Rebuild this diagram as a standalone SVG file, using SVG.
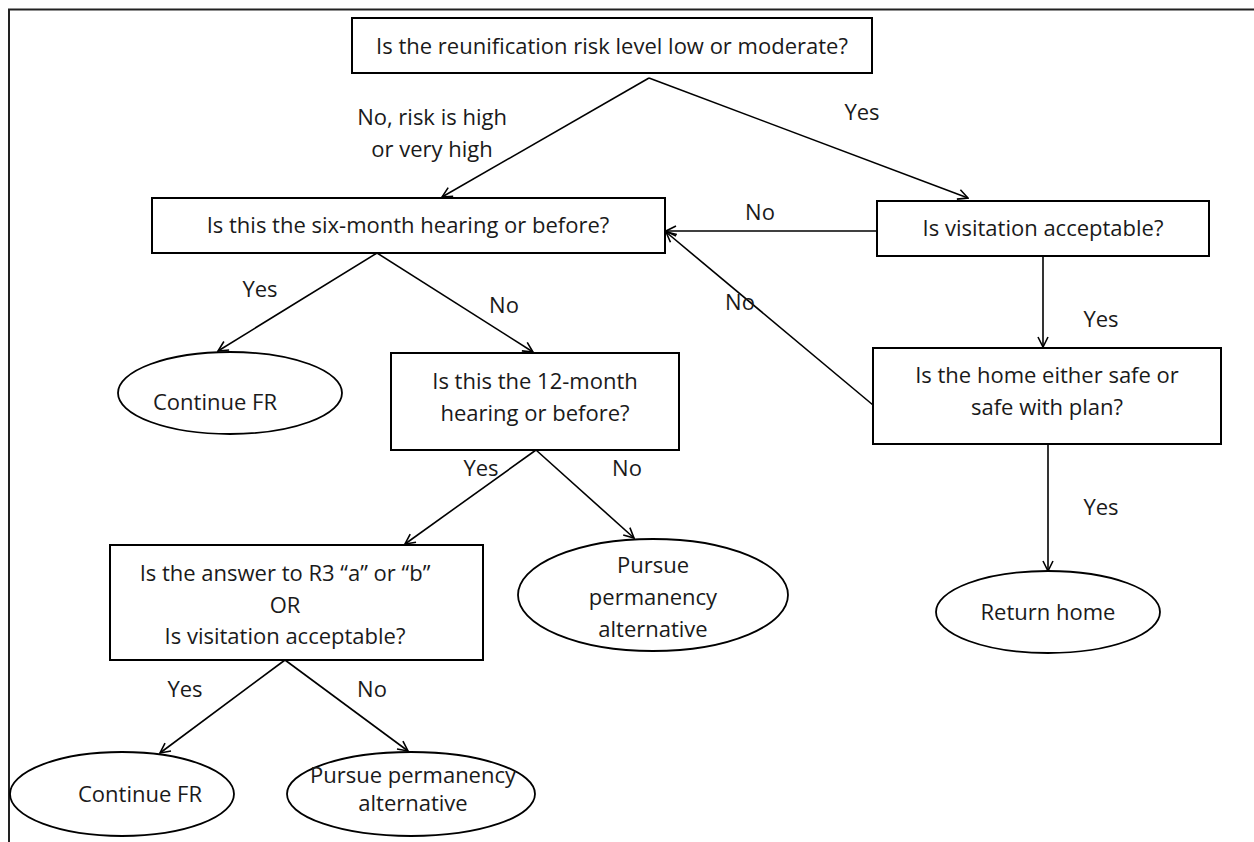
<svg xmlns="http://www.w3.org/2000/svg" width="1254" height="842" viewBox="0 0 1254 842">
<defs>
<style>
.box{fill:#fff;stroke:#000;stroke-width:2}
.ell{fill:#fff;stroke:#000;stroke-width:1.8}
.t{font-family:"Open Sans","Liberation Sans",sans-serif;font-size:22px;fill:#1a1a1a;text-anchor:middle}
.c{fill:none;stroke:#000;stroke-width:1.6}
.a{marker-end:url(#arr)}
</style>
<marker id="arr" viewBox="0 0 12 12" refX="11" refY="6" markerWidth="12" markerHeight="12" markerUnits="userSpaceOnUse" orient="auto">
<path d="M1,1 L11,6 L1,11" fill="none" stroke="#000" stroke-width="1.6"/>
</marker>
</defs>
<rect width="1254" height="842" fill="#fff"/>
<g id="frame">
<path d="M9,842 L9,9.5 L1254,9.5" fill="none" stroke="#222" stroke-width="2"/>
</g>
<g id="connectors">
<line class="c a" x1="649" y1="78" x2="442" y2="197"/>
<line class="c a" x1="649" y1="78" x2="968" y2="198"/>
<line class="c a" x1="877" y1="231" x2="666" y2="231"/>
<line class="c a" x1="873" y1="405" x2="666" y2="232"/>
<line class="c a" x1="1043" y1="256" x2="1043" y2="347"/>
<line class="c a" x1="1048" y1="444" x2="1048" y2="571"/>
<line class="c a" x1="377" y1="253" x2="218" y2="351"/>
<line class="c a" x1="377" y1="253" x2="533" y2="352"/>
<line class="c a" x1="536" y1="450" x2="405" y2="544"/>
<line class="c a" x1="536" y1="450" x2="634" y2="538"/>
<line class="c a" x1="285" y1="660" x2="160" y2="753"/>
<line class="c a" x1="285" y1="660" x2="408" y2="751"/>
<text class="t" x="432" y="125">No, risk is high</text>
<text class="t" x="432" y="157">or very high</text>
<text class="t" x="862" y="120">Yes</text>
<text class="t" x="760" y="220">No</text>
<text class="t" x="740" y="310">No</text>
<text class="t" x="1101" y="327">Yes</text>
<text class="t" x="1101" y="515">Yes</text>
<text class="t" x="260" y="297">Yes</text>
<text class="t" x="504" y="313">No</text>
<text class="t" x="481" y="476">Yes</text>
<text class="t" x="627" y="476">No</text>
<text class="t" x="185" y="697">Yes</text>
<text class="t" x="372" y="697">No</text>
</g>
<g id="n1">
<rect class="box" x="352" y="18" width="520" height="55"/>
<text class="t" x="612" y="54">Is the reunification risk level low or moderate?</text>
</g>
<g id="n2">
<rect class="box" x="152" y="198" width="513" height="55"/>
<text class="t" x="408" y="233">Is this the six-month hearing or before?</text>
</g>
<g id="n3">
<rect class="box" x="877" y="201" width="332" height="55"/>
<text class="t" x="1043" y="236">Is visitation acceptable?</text>
</g>
<g id="n4">
<rect class="box" x="873" y="348" width="348" height="96"/>
<text class="t" x="1047" y="383">Is the home either safe or</text>
<text class="t" x="1047" y="415">safe with plan?</text>
</g>
<g id="n5">
<ellipse class="ell" cx="230" cy="393" rx="112" ry="41"/>
<text class="t" x="215" y="410">Continue FR</text>
</g>
<g id="n6">
<rect class="box" x="391" y="353" width="288" height="97"/>
<text class="t" x="535" y="389">Is this the 12-month</text>
<text class="t" x="535" y="421">hearing or before?</text>
</g>
<g id="n7">
<ellipse class="ell" cx="1048" cy="612" rx="112" ry="41"/>
<text class="t" x="1048" y="620">Return home</text>
</g>
<g id="n8">
<rect class="box" x="110" y="545" width="373" height="115"/>
<text class="t" x="285" y="581">Is the answer to R3 “a” or “b”</text>
<text class="t" x="285" y="613">OR</text>
<text class="t" x="285" y="644">Is visitation acceptable?</text>
</g>
<g id="n9">
<ellipse class="ell" cx="653" cy="595" rx="135" ry="56"/>
<text class="t" x="653" y="573">Pursue</text>
<text class="t" x="653" y="605">permanency</text>
<text class="t" x="653" y="637">alternative</text>
</g>
<g id="n10">
<ellipse class="ell" cx="122" cy="794" rx="112" ry="42"/>
<text class="t" x="140" y="802">Continue FR</text>
</g>
<g id="n11">
<ellipse class="ell" cx="411" cy="794" rx="124" ry="42"/>
<text class="t" x="413" y="783">Pursue permanency</text>
<text class="t" x="413" y="811">alternative</text>
</g>
</svg>
